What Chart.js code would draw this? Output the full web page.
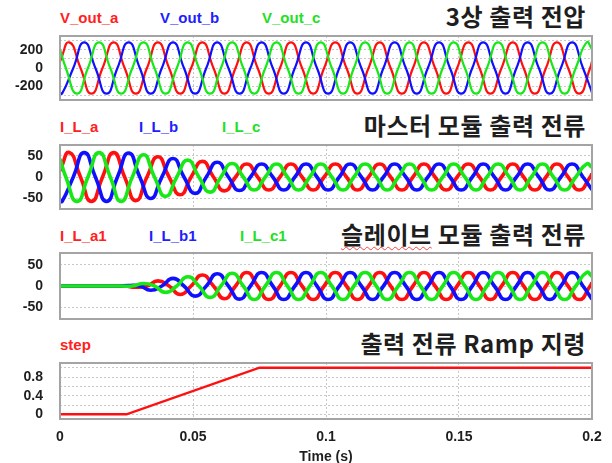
<!DOCTYPE html>
<html>
<head>
<meta charset="utf-8">
<script src="https://cdn.jsdelivr.net/npm/chart.js@4.4.1/dist/chart.umd.min.js"></script>
<style>
  html, body { margin: 0; padding: 0; background: #fff; }
  #wrap { position: relative; width: 612px; height: 463px; overflow: hidden; }
  canvas { position: absolute; left: 0; }
  .lbl { position: absolute; font: bold 15px "Liberation Sans", Arial, sans-serif; line-height: 20px; white-space: nowrap; }
  .ttl { position: absolute; right: 26px; font: bold 24px "Noto Sans CJK KR", sans-serif; letter-spacing: 0.6px; line-height: 30px; color: #1e1e1e; white-space: nowrap; }
  .red { color: #ff2020; } .blue { color: #2020ff; } .green { color: #22e022; }
  .squig { text-decoration: underline wavy #ff4040; text-decoration-thickness: 1px; text-underline-offset: 2px; }
</style>
</head>
<body>
<div id="wrap">
  <div class="lbl red" style="left:60px;top:8px">V_out_a</div>
  <div class="lbl blue" style="left:160px;top:8px">V_out_b</div>
  <div class="lbl green" style="left:262px;top:8px">V_out_c</div>
  <div class="ttl" style="top:1px">3상 출력 전압</div>
  <canvas id="c1" width="612" height="72" style="top:32px"></canvas>

  <div class="lbl red" style="left:60px;top:117px">I_L_a</div>
  <div class="lbl blue" style="left:139px;top:117px">I_L_b</div>
  <div class="lbl green" style="left:222px;top:117px">I_L_c</div>
  <div class="ttl" style="top:110px">마스터 모듈 출력 전류</div>
  <canvas id="c2" width="612" height="72" style="top:141px"></canvas>

  <div class="lbl red" style="left:60px;top:226px">I_L_a1</div>
  <div class="lbl blue" style="left:149px;top:226px">I_L_b1</div>
  <div class="lbl green" style="left:240px;top:226px">I_L_c1</div>
  <div class="ttl" style="top:219px"><span class="squig">슬레이브</span> 모듈 출력 전류</div>
  <canvas id="c3" width="612" height="74" style="top:249px"></canvas>

  <div class="lbl red" style="left:60px;top:335px">step</div>
  <div class="ttl" style="top:328px">출력 전류 Ramp 지령</div>
  <canvas id="c4" width="612" height="104" style="top:359px"></canvas>
</div>
<script>
// key instants (peaks / zero crossings) of each phase, seconds
const tA = [0, 0.0035, 0.0077, 0.0118, 0.0160, 0.0202, 0.0243, 0.0285, 0.0327, 0.0368, 0.0410,
  0.0452, 0.0493, 0.0535, 0.0577, 0.0618, 0.0660, 0.0702, 0.0743, 0.0785, 0.0827, 0.0868, 0.0910,
  0.0952, 0.0993, 0.1035, 0.1077, 0.1118, 0.1160, 0.1202, 0.1243, 0.1285, 0.1327, 0.1368, 0.1410,
  0.1452, 0.1493, 0.1535, 0.1577, 0.1618, 0.1660, 0.1702, 0.1743, 0.1785, 0.1827, 0.1868, 0.1910,
  0.1952, 0.1993, 0.2000];
const tB = [0, 0.0008, 0.0050, 0.0091, 0.0133, 0.0175, 0.0216, 0.0258, 0.0300, 0.0341, 0.0383,
  0.0425, 0.0466, 0.0508, 0.0550, 0.0591, 0.0633, 0.0675, 0.0716, 0.0758, 0.0800, 0.0841, 0.0883,
  0.0925, 0.0966, 0.1008, 0.1050, 0.1091, 0.1133, 0.1175, 0.1216, 0.1258, 0.1300, 0.1341, 0.1383,
  0.1425, 0.1466, 0.1508, 0.1550, 0.1591, 0.1633, 0.1675, 0.1716, 0.1758, 0.1800, 0.1841, 0.1883,
  0.1925, 0.1966, 0.2000];
const tC = [0, 0.0022, 0.0064, 0.0105, 0.0147, 0.0189, 0.0230, 0.0272, 0.0314, 0.0355, 0.0397,
  0.0439, 0.0480, 0.0522, 0.0564, 0.0605, 0.0647, 0.0689, 0.0730, 0.0772, 0.0814, 0.0855, 0.0897,
  0.0939, 0.0980, 0.1022, 0.1064, 0.1105, 0.1147, 0.1189, 0.1230, 0.1272, 0.1314, 0.1355, 0.1397,
  0.1439, 0.1480, 0.1522, 0.1564, 0.1605, 0.1647, 0.1689, 0.1730, 0.1772, 0.1814, 0.1855, 0.1897,
  0.1939, 0.1980, 0.2000];

// 3-phase output voltage
const vA = [70,
  280, 0, -280, 0, 280, 0, -280, 0, 280, 0, -280, 0, 280, 0, -280, 0,
  280, 0, -280, 0, 280, 0, -280, 0, 280, 0, -280, 0, 280, 0, -280, 0,
  280, 0, -280, 0, 280, 0, -280, 0, 280, 0, -280, 0, 280, 0, -280, 0,
  72];
const vB = [-269,
  -280, 0, 280, 0, -280, 0, 280, 0, -280, 0, 280, 0, -280, 0, 280, 0,
  -280, 0, 280, 0, -280, 0, 280, 0, -280, 0, 280, 0, -280, 0, 280, 0,
  -280, 0, 280, 0, -280, 0, 280, 0, -280, 0, 280, 0, -280, 0, 280, 0,
  -268];
const vC = [206,
  0, -280, 0, 280, 0, -280, 0, 280, 0, -280, 0, 280, 0, -280, 0, 280,
  0, -280, 0, 280, 0, -280, 0, 280, 0, -280, 0, 280, 0, -280, 0, 280,
  0, -280, 0, 280, 0, -280, 0, 280, 0, -280, 0, 280, 0, -280, 0, 280,
  204];

// master module currents
const mA = [15,
  58, 0, -58, 0, 58, 0, -56, 0, 48, 0, -42, 0, 37, 0, -33, 0,
  31, 0, -31, 0, 31, 0, -31, 0, 31, 0, -31, 0, 31, 0, -31, 0,
  31, 0, -31, 0, 31, 0, -31, 0, 31, 0, -31, 0, 31, 0, -31, 0,
  8];
const mB = [-56,
  -58, 0, 58, 0, -58, 0, 57, 0, -51, 0, 44, 0, -39, 0, 35, 0,
  -32, 0, 31, 0, -31, 0, 31, 0, -31, 0, 31, 0, -31, 0, 31, 0,
  -31, 0, 31, 0, -31, 0, 31, 0, -31, 0, 31, 0, -31, 0, 31, 0,
  -30];
const mC = [43,
  0, -58, 0, 58, 0, -58, 0, 53, 0, -46, 0, 40, 0, -36, 0, 32,
  0, -31, 0, 31, 0, -31, 0, 31, 0, -31, 0, 31, 0, -31, 0, 31,
  0, -31, 0, 31, 0, -31, 0, 31, 0, -31, 0, 31, 0, -31, 0, 31,
  23];

// slave module currents
const sA = [0,
  0, 0, 0, 0, 0, 0, -3, 0, 12, 0, -20, 0, 26, 0, -30, 0,
  32, 0, -32, 0, 32, 0, -32, 0, 32, 0, -32, 0, 32, 0, -32, 0,
  32, 0, -32, 0, 32, 0, -32, 0, 32, 0, -32, 0, 32, 0, -32, 0,
  8];
const sB = [0,
  0, 0, 0, 0, 0, 0, 1, 0, -10, 0, 18, 0, -24, 0, 29, 0,
  -31, 0, 32, 0, -32, 0, 32, 0, -32, 0, 32, 0, -32, 0, 32, 0,
  -32, 0, 32, 0, -32, 0, 32, 0, -32, 0, 32, 0, -32, 0, 32, 0,
  -31];
const sC = [0,
  0, 0, 0, 0, 0, 0, 0, 6, 0, -15, 0, 22, 0, -27, 0, 30,
  0, -32, 0, 32, 0, -32, 0, 32, 0, -32, 0, 32, 0, -32, 0, 32,
  0, -32, 0, 32, 0, -32, 0, 32, 0, -32, 0, 32, 0, -32, 0, 32,
  23];

// ramp command
const stepT = [0, 0.025, 0.075, 0.2];
const stepV = [0, 0, 1, 1];

// axes
const xTicks = [0, 0.05, 0.1, 0.15, 0.2];
const vGrid = [-300, -200, -100, 0, 100, 200, 300];
const vLabels = [-200, 0, 200];
const iGrid = [-50, 0, 50];
const iLabels = [-50, 0, 50];
const rGrid = [0, 0.2, 0.4, 0.6, 0.8, 1.0];
const rLabels = [0, 0.4, 0.8];

const C = { red: "#ff1010", blue: "#1010ff", green: "#18e818", grid: "#c8c8c8", text: "#1e1e1e" };
const tickFont = { family: "'Liberation Sans', Arial, sans-serif", size: 14, weight: "bold" };

Chart.defaults.font.family = "'Liberation Sans', Arial, sans-serif";

const framePlugin = {
  id: "frame",
  afterDatasetsDraw(chart) {
    const a = chart.chartArea, ctx = chart.ctx;
    ctx.save();
    ctx.strokeStyle = "#a4a4a4";
    ctx.lineWidth = 2;
    ctx.strokeRect(a.left, a.top, a.right - a.left, a.bottom - a.top);
    ctx.restore();
  },
};

function pts(ts, vs) {
  return ts.map((t, i) => ({ x: t, y: vs[i] }));
}

function wave(ts, vs, color, width) {
  return { data: pts(ts, vs), borderColor: color, borderWidth: width, pointRadius: 0, tension: 0.55, fill: false };
}

function makeChart(id, datasets, yMin, yMax, yGrid, yLabels, showX) {
  return new Chart(document.getElementById(id), {
    type: "line",
    data: { datasets },
    options: {
      responsive: false,
      animation: false,
      devicePixelRatio: 1,
      events: [],
      layout: { padding: { top: 4, bottom: showX ? 0 : 4, left: 0, right: 20 } },
      plugins: { legend: { display: false }, tooltip: { enabled: false } },
      scales: {
        x: {
          type: "linear",
          min: 0,
          max: 0.2,
          afterBuildTicks: (s) => { s.ticks = xTicks.map((v) => ({ value: v })); },
          afterFit: (s) => { s.height = showX ? 44 : 0; },
          grid: { color: C.grid, drawTicks: false },
          border: { display: false, dash: [2, 2] },
          ticks: { display: showX, padding: 10, autoSkip: false, maxRotation: 0, color: C.text, font: tickFont, callback: (v) => String(v) },
          title: { display: showX, text: "Time (s)", color: C.text, font: tickFont, padding: { top: 0, bottom: -3 } },
        },
        y: {
          min: yMin,
          max: yMax,
          afterBuildTicks: (s) => { s.ticks = yGrid.map((v) => ({ value: v })); },
          afterFit: (s) => { s.width = 60; s.paddingTop = 0; s.paddingBottom = 0; },
          grid: { color: C.grid, drawTicks: false },
          border: { display: false, dash: [2, 2] },
          ticks: { padding: 17, autoSkip: false, color: C.text, font: tickFont, callback: (v) => (yLabels.includes(v) ? String(v) : "") },
        },
      },
    },
    plugins: [framePlugin],
  });
}

makeChart("c1", [wave(tC, vC, C.green, 2.2), wave(tB, vB, C.blue, 2.2), wave(tA, vA, C.red, 2.2)],
  -350, 350, vGrid, vLabels, false);
makeChart("c2", [wave(tC, mC, C.green, 3.6), wave(tB, mB, C.blue, 3.6), wave(tA, mA, C.red, 3.6)],
  -76, 76, iGrid, iLabels, false);
makeChart("c3", [wave(tC, sC, C.green, 3.6), wave(tB, sB, C.blue, 3.6), wave(tA, sA, C.red, 3.6)],
  -78, 78, iGrid, iLabels, false);
makeChart("c4", [{ data: pts(stepT, stepV), borderColor: C.red, borderWidth: 2.5, pointRadius: 0, tension: 0, fill: false }],
  -0.1, 1.1, rGrid, rLabels, true);
</script>
</body>
</html>
